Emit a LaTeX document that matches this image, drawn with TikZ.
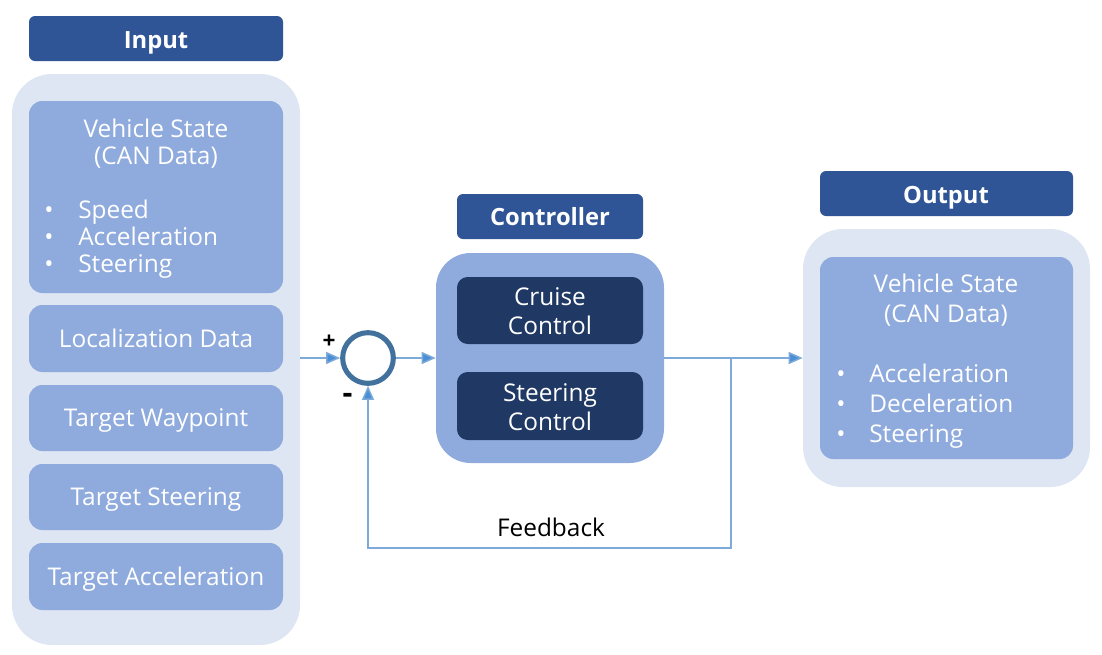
\documentclass[tikz,border=0pt]{standalone}
\usepackage{fontspec}
\setmainfont{Open Sans}
\usetikzlibrary{arrows.meta,fit}
\definecolor{hdr}{HTML}{2F5597}
\definecolor{pale}{HTML}{DEE5F3}
\definecolor{mid}{HTML}{8FAADC}
\definecolor{darkbox}{HTML}{1F3864}
\definecolor{ring}{HTML}{41719C}
\definecolor{wire}{HTML}{7EAAD9}
\definecolor{tip}{HTML}{4A8FD6}
\begin{document}
\begin{tikzpicture}[x=0.75pt,y=-0.75pt,
  header/.style={fill=hdr, rounded corners=4.5pt, inner sep=0pt},
  hdrtext/.style={text=white, inner sep=0pt, text height=12.7pt, text depth=0pt, font=\bfseries\fontsize{17.8}{20}\selectfont},
  panel/.style={fill=pale, rounded corners=30pt, inner sep=0pt},
  midpanel/.style={fill=mid, rounded corners=26pt, inner sep=0pt},
  item/.style={fill=mid, rounded corners=10pt, inner sep=0pt},
  ctrl/.style={fill=darkbox, rounded corners=8pt, inner sep=0pt},
  txt/.style={text=white, inner sep=0pt, text height=13pt, text depth=0pt, font=\fontsize{18.3}{20}\selectfont},
  sign/.style={inner sep=0pt, text height=12pt, text depth=0pt, font=\bfseries\fontsize{17}{20}\selectfont},
  wirestyle/.style={draw=wire, line width=1.1pt},
  arr/.style={wirestyle, -{Triangle[length=10.5pt,width=9pt,fill=tip]}},
]
\useasboundingbox (0,0) rectangle (1102,654);

% ---- Input ----
\node[header, fit={(29,16)(283,61)}] (inhdr) {};
\node[hdrtext] at (156,40) (inhdrtxt) {Input};
\node[panel, fit={(12,74)(300,645)}] (inpanel) {};
\node[item, fit={(29,101)(283,293)}] (vs) {};
\node[txt] (vs1) at (156,129) {Vehicle State};
\node[txt] (vs2) at (156,156) {(CAN Data)};
\node[txt] (vsb1) at (49,210) {•};
\node[txt] (vsb2) at (49,237) {•};
\node[txt] (vsb3) at (49,264) {•};
\node[txt, anchor=west] (vst1) at (78,210) {Speed};
\node[txt, anchor=west] (vst2) at (78,237) {Acceleration};
\node[txt, anchor=west] (vst3) at (78,264) {Steering};
\node[item, fit={(29,305)(283,372)}] (loc) {};
\node[txt] at (156,339) (loct) {Localization Data};
\node[item, fit={(29,385)(283,451)}] (tw) {};
\node[txt] at (156,418) (twt) {Target Waypoint};
\node[item, fit={(29,464)(283,530)}] (ts) {};
\node[txt] at (156,497) (tst) {Target Steering};
\node[item, fit={(29,543)(283,610)}] (ta) {};
\node[txt] at (156,577) (tat) {Target Acceleration};

% ---- Summing junction ----
\node[circle, draw=ring, line width=3.8pt, minimum size=38pt, inner sep=0pt] (sum) at (368,358) {};
\node[sign] (plus) at (329,340) {+};
\node[inner sep=0pt, font=\bfseries\fontsize{23}{24}\selectfont] (minus) at (347.5,398) {-};

% ---- Controller ----
\node[header, fit={(457,194)(643,239)}] (chdr) {};
\node[hdrtext] at (550,217) (chdrtxt) {Controller};
\node[midpanel, fit={(436,253)(664,463)}] (cpanel) {};
\node[ctrl, fit={(457,277)(643,344)}] (cc) {};
\node[txt] at (550,297) (cct1) {Cruise};
\node[txt] at (550,326) (cct2) {Control};
\node[ctrl, fit={(457,372)(643,440)}] (sc) {};
\node[txt] at (550,393) (sct1) {Steering};
\node[txt] at (550,422) (sct2) {Control};

% ---- Output ----
\node[header, fit={(820,171)(1073,216)}] (ohdr) {};
\node[hdrtext] at (946,195) (ohdrtxt) {Output};
\node[panel, fit={(803,229)(1090,487)}] (opanel) {};
\node[item, fit={(820,257)(1073,459)}] (ovs) {};
\node[txt] (o1) at (946,284) {Vehicle State};
\node[txt] (o2) at (946,314) {(CAN Data)};
\node[txt] (ob1) at (841,374) {•};
\node[txt] (ob2) at (841,404) {•};
\node[txt] (ob3) at (841,434) {•};
\node[txt, anchor=west] (ot1) at (869,374) {Acceleration};
\node[txt, anchor=west] (ot2) at (869,404) {Deceleration};
\node[txt, anchor=west] (ot3) at (869,434) {Steering};

% ---- Connectors ----
\coordinate (branch) at (731,358);
\coordinate (fbr) at (731,548);
\coordinate (fbl) at (368,548);
\draw[arr] (inpanel.east |- sum.west) -- (sum.west);
\draw[arr] (sum.east) -- (cpanel.west |- sum.east);
\draw[arr] (cpanel.east |- sum.east) -- (opanel.west |- sum.east);
\draw[arr] (branch) -- (fbr) -- (fbl) -- (sum.south);
\node[txt, text=black] (fb) at (551,528) {Feedback};
\end{tikzpicture}
\end{document}
